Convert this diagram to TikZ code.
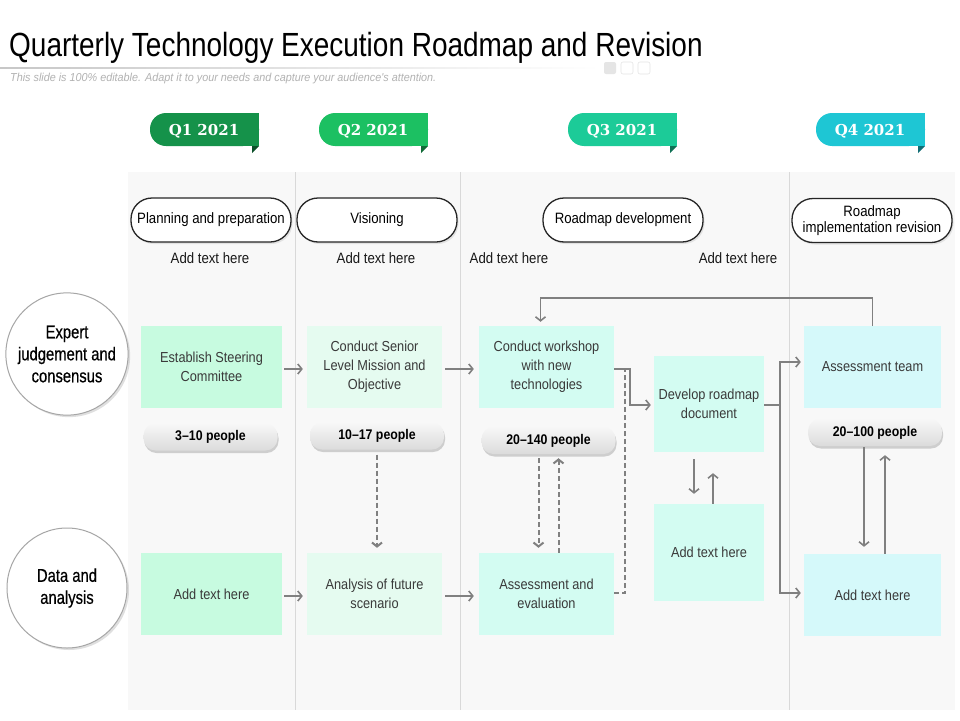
\documentclass[tikz,border=0pt]{standalone}
\usepackage{fontspec}
\setmainfont{Liberation Sans}
\newfontfamily\nf{Liberation Sans}[FakeStretch=0.88]
\newfontfamily\cf{Liberation Sans}[FakeStretch=0.8, FakeBold=0.5]
\newfontfamily\tf{Liberation Sans}[FakeStretch=0.835]
\newfontfamily\subfont{Liberation Sans}[FakeStretch=0.94]
\newfontfamily\qf{DejaVu Serif}
\usetikzlibrary{shadows,calc,arrows.meta}
\definecolor{qone}{HTML}{15924A}
\definecolor{qtwo}{HTML}{1CC062}
\definecolor{qthree}{HTML}{1CCB98}
\definecolor{qfour}{HTML}{1EC6D4}
\definecolor{mintA}{HTML}{C7FBE0}
\definecolor{mintB}{HTML}{E5FBF0}
\definecolor{mintC}{HTML}{D3FCF2}
\definecolor{mintD}{HTML}{D5F9FA}
\definecolor{arrowgrey}{HTML}{808080}
\definecolor{bgcol}{HTML}{F8F8F8}
\definecolor{divcol}{HTML}{D9D9D9}
\definecolor{boxtext}{HTML}{3A3A3A}
\newcommand{\qtag}[4]{%
  \fill[#2, rounded corners=16pt] (#1,113) rectangle ++(109,33);
  \fill[#2] (#1+50,113) rectangle ++(59,33);
  \fill[#2!55!black] (#1+102,146) -- (#1+109,146) -- (#1+102,153) -- cycle;
  \node[qtext] (#4) at (#1+54,131) {#3};
}
\begin{document}
\begin{tikzpicture}[x=1pt,y=-1pt,
  qtext/.style={font=\qf\bfseries\fontsize{15}{17}\selectfont, text=white},
  hdr/.style={draw=black!85, line width=1.3pt, rounded corners=21pt, fill=white,
    minimum width=160, minimum height=44, inner sep=1pt,
    font=\nf\fontsize{15}{16}\selectfont, align=center,
    drop shadow={shadow xshift=1.5pt, shadow yshift=-2pt, opacity=0.18}},
  lbl/.style={font=\nf\fontsize{15}{17}\selectfont, text=black!90},
  box/.style={minimum width=#1, minimum height=82, inner sep=2pt, align=center,
    font=\nf\fontsize{14.5}{19}\selectfont, text=boxtext},
  ppl/.style={rounded corners=12pt, minimum width=134, minimum height=27,
    top color=white!97!black, bottom color=white!86!black,
    font=\nf\bfseries\fontsize{14}{16}\selectfont,
    drop shadow={shadow xshift=1pt, shadow yshift=-2.5pt, opacity=0.35}},
  circ/.style={circle, draw=black!35, line width=1pt, fill=white, minimum size=120,
    align=center, font=\cf\fontsize{18.5}{22}\selectfont,
    drop shadow={shadow xshift=2pt, shadow yshift=-2pt, opacity=0.25}},
  arr/.style={draw=arrowgrey, line width=1.6pt, -{Straight Barb[length=4pt,width=10pt]}},
  darr/.style={arr, line width=2pt, dash pattern=on 5pt off 3pt},
  ln/.style={draw=arrowgrey, line width=1.6pt},
  dln/.style={ln, line width=2pt, dash pattern=on 5pt off 3pt}
]
\useasboundingbox (0,0) rectangle (960,720);
\fill[white] (0,0) rectangle (960,720);

% title area
\node[anchor=base west, inner sep=0, font=\tf\fontsize{33.5}{36}\selectfont] (title) at (9,56) {Quarterly Technology Execution Roadmap and Revision};
\shade[left color=black!22, right color=white] (0,67.3) rectangle (600,68.7);
\fill[black!10, rounded corners=2pt] (604,62) rectangle (616,74);
\draw[black!10, rounded corners=2pt, line width=0.6pt] (621,62) rectangle (633,74);
\draw[black!10, rounded corners=2pt, line width=0.6pt] (638,62) rectangle (650,74);
\node[anchor=base west, inner sep=0, text=black!30, font=\subfont\itshape\fontsize{11.5}{12}\selectfont] (sub) at (10,81.5) {This slide is 100\% editable. Adapt it to your needs and capture your audience's attention.};

% quarter tags
\qtag{150}{qone}{Q1 2021}{q1}
\qtag{319}{qtwo}{Q2 2021}{q2}
\qtag{568}{qthree}{Q3 2021}{q3}
\qtag{816}{qfour}{Q4 2021}{q4}

% background panel and dividers
\fill[bgcol] (128,172) rectangle (955,710);
\foreach \xx in {295,460,789} \draw[divcol, line width=0.8pt] (\xx,172) -- (\xx,710);

% header pills
\node[hdr] (h1) at (211,220) {Planning and preparation};
\node[hdr] (h2) at (377,220) {Visioning};
\node[hdr] (h3) at (623,220) {Roadmap development};
\node[hdr] (h4) at (872,220.5) {Roadmap\\implementation revision};

% add text labels
\node[lbl] (l1) at (210,258) {Add text here};
\node[lbl] (l2) at (376,258) {Add text here};
\node[lbl] (l3) at (509,258) {Add text here};
\node[lbl] (l4) at (738,258) {Add text here};

% circles
\node[circ] (e1) at (67,354) {Expert\\judgement and\\consensus};
\node[circ] (e2) at (67,588) {Data and\\analysis};

% boxes row 1
\node[box=141, fill=mintA] (b1) at (211.5,367) {Establish Steering\\Committee};
\node[box=135, fill=mintB] (b2) at (374.5,367) {Conduct Senior\\Level Mission and\\Objective};
\node[box=135, fill=mintC] (b3) at (546.5,367) {Conduct workshop\\with new\\technologies};
\node[box=110, fill=mintC, minimum height=96] (b4) at (709,404) {Develop roadmap\\document};
\node[box=137, fill=mintD] (b5) at (872.5,367) {Assessment team};
% boxes row 2
\node[box=141, fill=mintA] (c1) at (211.5,594) {Add text here};
\node[box=135, fill=mintB] (c2) at (374.5,594) {Analysis of future\\scenario};
\node[box=135, fill=mintC] (c3) at (546.5,594) {Assessment and\\evaluation};
\node[box=110, fill=mintC, minimum height=97] (c4) at (709,552.5) {Add text here};
\node[box=137, fill=mintD] (c5) at (872.5,595) {Add text here};

% people pills
\node[ppl] (p1) at (210.5,437) {3–10 people};
\node[ppl] (p2) at (377,436) {10–17 people};
\node[ppl] (p3) at (548.5,440.5) {20–140 people};
\node[ppl] (p4) at (875,432.5) {20–100 people};

% horizontal flow arrows
\draw[arr, shorten <=2pt, shorten >=4pt] ([yshift=-2pt]b1.east) -- ([yshift=-2pt]b2.west);
\draw[arr, shorten <=3pt, shorten >=5pt] ([yshift=-2pt]b2.east) -- ([yshift=-2pt]b3.west);
\draw[arr, shorten <=2pt, shorten >=4pt] ([yshift=-2pt]c1.east) -- ([yshift=-2pt]c2.west);
\draw[arr, shorten <=3pt, shorten >=5pt] ([yshift=-2pt]c2.east) -- ([yshift=-2pt]c3.west);

% workshop -> roadmap doc
\draw[arr] ([yshift=-2pt]b3.east) -- ++(16,0) |- ([xshift=-3pt,yshift=-1pt]b4.west);
% dashed return from evaluation
\draw[dln] ([yshift=1pt]c3.east) -| ([xshift=11pt,yshift=-2pt]b3.east);

% roadmap doc -> assessment team / add text
\coordinate (j) at ($(b4.east)+(16,0)$);
\draw[ln] ([yshift=-1pt]b4.east) -- ([yshift=-1pt]j);
\draw[arr] ([yshift=-1pt]j) |- ([xshift=-3pt,yshift=5pt]b5.west);
\draw[arr] ([yshift=-1pt]j) |- ([xshift=-3pt,yshift=2pt]c5.west);

% feedback loop from assessment team to workshop
\draw[arr] (b5.north) -- ++(0,-28) -| ([xshift=-6pt,yshift=4pt]b3.north);

% dashed links from people pills
\draw[darr, shorten <=5pt, shorten >=5pt] (p2.south) -- (p2.south |- c2.north);
\draw[darr, shorten <=4pt, shorten >=5pt] ([xshift=-10pt]p3.south) -- ([xshift=-10pt]p3.south |- c3.north);
\draw[darr, shorten >=4pt] ([xshift=10pt]p3.south |- c3.north) -- ([xshift=10pt]p3.south);

% roadmap doc <-> add text
\draw[arr, shorten <=7pt, shorten >=10pt] ([xshift=-15pt]b4.south) -- ([xshift=-15pt]b4.south |- c4.north);
\draw[arr, shorten >=21pt] ([xshift=4pt]b4.south |- c4.north) -- ([xshift=4pt]b4.south);

% assessment team pill <-> add text
\draw[arr, shorten <=1pt, shorten >=7pt] ([xshift=-11pt]p4.south) -- ([xshift=-11pt]p4.south |- c5.north);
\draw[arr, shorten >=9pt] ([xshift=10pt]p4.south |- c5.north) -- ([xshift=10pt]p4.south);
\end{tikzpicture}
\end{document}
